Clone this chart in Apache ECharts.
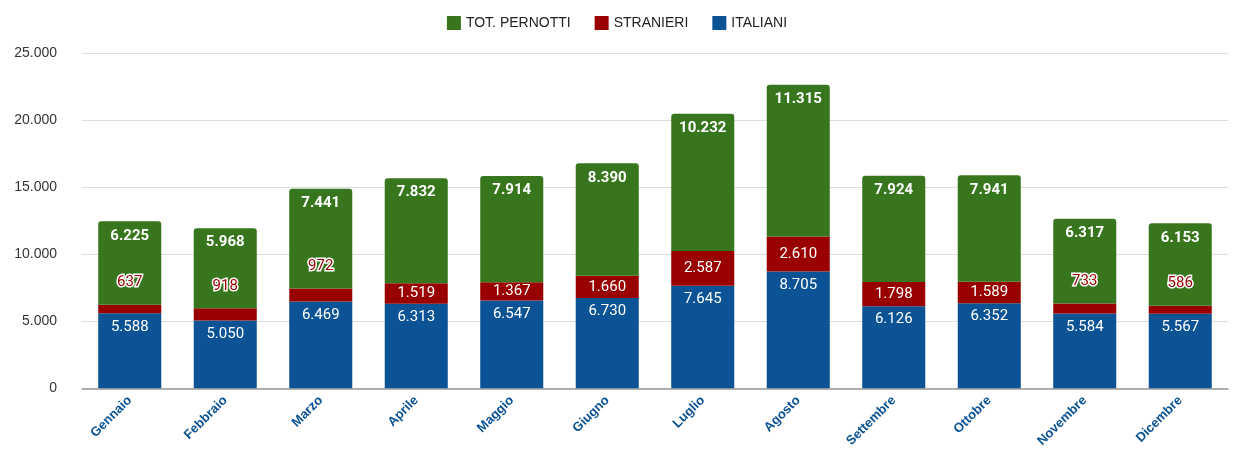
<!DOCTYPE html>
<html><head><meta charset="utf-8">
<script src="https://cdn.jsdelivr.net/npm/echarts@6/dist/echarts.min.js"></script>
<style>html,body{margin:0;padding:0;background:#fff}#c{width:1234px;height:450px}</style>
</head><body><div id="c"></div>
<script>
const categories = ['Gennaio','Febbraio','Marzo','Aprile','Maggio','Giugno','Luglio','Agosto','Settembre','Ottobre','Novembre','Dicembre'];
const italiani = [5588, 5050, 6469, 6313, 6547, 6730, 7645, 8705, 6126, 6352, 5584, 5567];
const stranieri = [637, 918, 972, 1519, 1367, 1660, 2587, 2610, 1798, 1589, 733, 586];
const totPernotti = [6225, 5968, 7441, 7832, 7914, 8390, 10232, 11315, 7924, 7941, 6317, 6153];
const yTicks = [0, 5000, 10000, 15000, 20000, 25000];

const fmt = v => String(v).replace(/\B(?=(\d{3})+(?!\d))/g, '.');
const C_GREEN = '#38761d', C_RED = '#990000', C_BLUE = '#0b5394';

const stranieriData = stranieri.map(v => {
  const small = v < 1000;
  return {
    value: v,
    label: small ? {
      show: true, position: 'top', distance: 15, color: C_RED,
      textBorderColor: '#fff', textBorderWidth: 3, fontSize: 15, fontFamily: 'Roboto'
    } : {
      show: true, position: 'inside', color: '#fff', fontSize: 15, fontFamily: 'Roboto'
    }
  };
});

const chart = echarts.init(document.getElementById('c'), null, {renderer: 'canvas'});
chart.setOption({
  animation: false,
  legend: {
    top: 11, left: 'center', itemWidth: 14, itemHeight: 14, itemGap: 24,
    icon: 'rect',
    textStyle: {fontFamily: 'Liberation Sans', fontSize: 14, color: '#222'},
    data: ['TOT. PERNOTTI', 'STRANIERI', 'ITALIANI']
  },
  grid: {left: 82, right: 6, top: 53, bottom: 61},
  xAxis: {
    type: 'category', data: categories,
    axisTick: {show: false},
    axisLine: {lineStyle: {color: '#999', width: 1.5}},
    axisLabel: {rotate: 45, color: C_BLUE, fontWeight: 'bold', fontSize: 13, fontFamily: 'Liberation Sans', margin: 10, interval: 0}
  },
  yAxis: {
    type: 'value', min: 0, max: 25000, interval: 5000,
    axisLabel: {formatter: v => fmt(v), color: '#333', fontSize: 14, fontFamily: 'Liberation Sans', margin: 25},
    splitLine: {lineStyle: {color: '#ddd', width: 1}},
    axisLine: {show: false}, axisTick: {show: false}
  },
  series: [
    {
      name: 'ITALIANI', type: 'bar', stack: 's', data: italiani, barWidth: '66%',
      itemStyle: {color: C_BLUE},
      label: {show: true, position: 'insideTop', distance: 6, color: '#fff', fontSize: 15, fontFamily: 'Roboto', formatter: p => fmt(p.value)}
    },
    {
      name: 'STRANIERI', type: 'bar', stack: 's', data: stranieriData,
      itemStyle: {color: C_RED},
      label: {formatter: p => fmt(p.value)}
    },
    {
      name: 'TOT. PERNOTTI', type: 'bar', stack: 's', data: totPernotti,
      itemStyle: {color: C_GREEN, borderRadius: [3, 3, 0, 0]},
      label: {show: true, position: 'insideTop', distance: 7, color: '#fff', fontWeight: 'bold', fontSize: 15, fontFamily: 'Roboto', formatter: p => fmt(p.value)}
    }
  ]
});
</script></body></html>
